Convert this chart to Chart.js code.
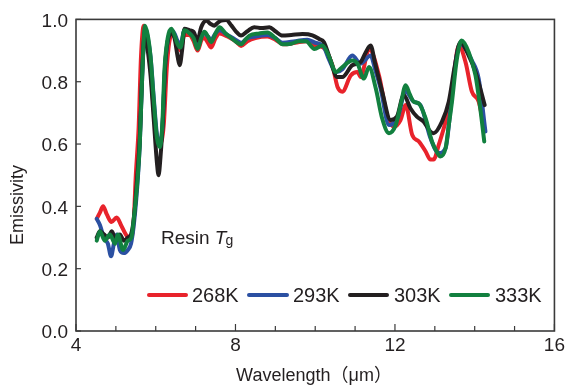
<!DOCTYPE html>
<html>
<head>
<meta charset="utf-8">
<script src="https://cdn.jsdelivr.net/npm/chart.js@4/dist/chart.umd.min.js"></script>
<style>
html,body{margin:0;padding:0;background:#fff;}
canvas{display:block;}
</style>
</head>
<body>
<canvas id="c" width="568" height="389"></canvas>
<script>
// ---- Data (wavelength in µm, emissivity) ----
const seriesNames = ["268K", "293K", "303K", "333K"];
const xTicks = [4, 8, 12, 16];
const yTicks = [0.0, 0.2, 0.4, 0.6, 0.8, 1.0];

const wl268 = [4.52,4.6,4.68,4.77,4.89,5.02,5.14,5.27,5.39,5.45,5.5,5.57,5.63,5.7,5.77,5.85,5.93,6.02,6.1,6.2,6.28,6.36,6.45,6.55,6.62,6.72,6.85,6.95,7.05,7.15,7.22,7.31,7.39,7.5,7.6,7.8,8.0,8.14,8.3,8.5,8.8,9.0,9.2,9.5,9.8,10.0,10.2,10.43,10.56,10.68,10.89,11.06,11.14,11.35,11.6,11.81,11.98,12.14,12.27,12.43,12.6,12.77,12.89,12.97,13.1,13.27,13.43,13.6,13.77,13.93,14.1,14.24];
const em268 = [0.36,0.38,0.40,0.375,0.35,0.364,0.337,0.306,0.30,0.36,0.50,0.65,0.88,0.98,0.95,0.88,0.74,0.63,0.60,0.66,0.85,0.94,0.955,0.92,0.90,0.95,0.95,0.93,0.90,0.935,0.94,0.925,0.91,0.94,0.955,0.945,0.93,0.915,0.93,0.94,0.945,0.935,0.92,0.925,0.93,0.915,0.91,0.853,0.783,0.768,0.82,0.831,0.815,0.905,0.82,0.688,0.656,0.677,0.725,0.63,0.608,0.576,0.55,0.55,0.598,0.672,0.768,0.916,0.863,0.768,0.736,0.65];

const wl293 = [4.52,4.6,4.7,4.8,4.88,4.95,5.02,5.1,5.2,5.3,5.38,5.45,5.54,5.6,5.67,5.74,5.8,5.87,5.95,6.03,6.1,6.17,6.23,6.3,6.39,6.47,6.55,6.62,6.72,6.85,6.95,7.05,7.14,7.22,7.31,7.39,7.5,7.6,7.8,8.0,8.14,8.3,8.5,8.8,9.0,9.18,9.5,9.8,10.0,10.2,10.35,10.52,10.68,10.93,11.14,11.39,11.5,11.64,11.85,12.06,12.27,12.47,12.64,12.89,13.1,13.27,13.4,13.52,13.64,13.93,14.1,14.27];
const em293 = [0.36,0.34,0.30,0.28,0.24,0.28,0.31,0.26,0.25,0.26,0.28,0.34,0.47,0.60,0.85,0.97,0.94,0.88,0.75,0.63,0.60,0.66,0.84,0.93,0.965,0.955,0.93,0.92,0.965,0.96,0.945,0.915,0.945,0.955,0.945,0.935,0.955,0.965,0.95,0.935,0.925,0.94,0.945,0.95,0.94,0.925,0.93,0.935,0.925,0.915,0.87,0.83,0.84,0.884,0.858,0.884,0.84,0.778,0.661,0.682,0.768,0.736,0.725,0.619,0.571,0.587,0.72,0.863,0.921,0.868,0.81,0.64];

const wl303 = [4.52,4.6,4.7,4.8,4.9,5.0,5.1,5.2,5.3,5.38,5.45,5.54,5.6,5.67,5.73,5.8,5.87,5.95,6.03,6.07,6.12,6.18,6.24,6.3,6.39,6.47,6.55,6.6,6.66,6.72,6.85,6.95,7.05,7.14,7.27,7.38,7.47,7.56,7.64,7.77,7.9,8.02,8.14,8.3,8.47,8.65,8.85,9.0,9.18,9.4,9.68,9.93,10.1,10.22,10.38,10.55,10.68,10.93,11.14,11.25,11.39,11.5,11.68,11.89,12.05,12.22,12.39,12.55,12.72,12.89,12.97,13.18,13.35,13.5,13.64,13.85,14.02,14.14,14.25];
const em303 = [0.30,0.32,0.31,0.30,0.32,0.29,0.31,0.29,0.30,0.31,0.36,0.50,0.62,0.86,0.96,0.90,0.82,0.68,0.54,0.50,0.56,0.68,0.86,0.93,0.955,0.94,0.88,0.853,0.90,0.97,0.965,0.96,0.932,0.975,0.996,0.985,0.98,0.99,0.996,0.998,0.98,0.96,0.948,0.962,0.975,0.972,0.975,0.962,0.948,0.95,0.953,0.949,0.937,0.927,0.87,0.815,0.815,0.853,0.863,0.89,0.916,0.86,0.768,0.677,0.688,0.757,0.714,0.688,0.672,0.64,0.635,0.672,0.736,0.85,0.927,0.884,0.831,0.778,0.725];

const wl333 = [4.52,4.6,4.72,4.85,4.98,5.05,5.18,5.3,5.39,5.45,5.54,5.6,5.67,5.73,5.8,5.87,5.95,6.03,6.1,6.16,6.22,6.3,6.39,6.47,6.55,6.62,6.72,6.85,6.95,7.05,7.14,7.22,7.31,7.39,7.5,7.6,7.75,7.9,8.05,8.14,8.25,8.35,8.6,8.8,9.0,9.18,9.4,9.6,9.77,9.98,10.18,10.35,10.52,10.68,10.93,11.06,11.22,11.35,11.52,11.68,11.85,12.02,12.15,12.27,12.37,12.47,12.6,12.77,12.93,13.05,13.14,13.27,13.35,13.43,13.55,13.67,13.85,14.02,14.14,14.24];
const em333 = [0.29,0.32,0.29,0.31,0.28,0.31,0.26,0.29,0.30,0.36,0.48,0.60,0.85,0.98,0.95,0.88,0.74,0.62,0.59,0.65,0.84,0.94,0.97,0.95,0.92,0.91,0.965,0.955,0.94,0.905,0.94,0.96,0.945,0.927,0.955,0.975,0.955,0.94,0.925,0.92,0.935,0.948,0.955,0.958,0.94,0.92,0.922,0.93,0.93,0.905,0.916,0.88,0.831,0.847,0.868,0.858,0.81,0.847,0.778,0.682,0.635,0.661,0.73,0.789,0.76,0.736,0.73,0.682,0.608,0.575,0.56,0.587,0.66,0.736,0.87,0.932,0.895,0.82,0.714,0.608];

const colors = {"268K":"#e8232b", "293K":"#2b50a2", "303K":"#231f20", "333K":"#12803f"};

function pts(xs, ys){ return xs.map((x,i)=>({x:x, y:ys[i]})); }

const FONT = "'Liberation Sans', Arial, 'Noto Sans CJK JP', sans-serif";
const TXT = "#231f20";

function ds(name, xs, ys){
  return {label:name, data:pts(xs,ys), borderColor:colors[name], backgroundColor:colors[name],
    borderWidth:4, pointRadius:0, fill:false, cubicInterpolationMode:'monotone',
    borderCapStyle:'round', borderJoinStyle:'round'};
}

// first dataset is drawn on top -> green first
const datasets = [
  ds("333K", wl333, em333),
  ds("303K", wl303, em303),
  ds("293K", wl293, em293),
  ds("268K", wl268, em268)
];

const decor = {
  id:'decor',
  afterDraw(chart){
    const ctx = chart.ctx, a = chart.chartArea;
    const xs = chart.scales.x, ys = chart.scales.y;
    ctx.save();
    // frame
    ctx.strokeStyle = "#3a3a3a";
    ctx.lineWidth = 1.6;
    ctx.strokeRect(a.left, a.top, a.right - a.left, a.bottom - a.top);
    // x ticks (inside)
    ctx.lineWidth = 1.2;
    for (let v = xs.min; v <= xs.max; v += 1){
      const px = xs.getPixelForValue(v);
      const len = (v % 4 === 0) ? 7 : 5;
      ctx.beginPath(); ctx.moveTo(px, a.bottom); ctx.lineTo(px, a.bottom - len); ctx.stroke();
    }
    // y ticks (inside)
    yTicks.forEach(v=>{
      const py = ys.getPixelForValue(v);
      ctx.beginPath(); ctx.moveTo(a.left, py); ctx.lineTo(a.left + 5, py); ctx.stroke();
    });
    // legend
    const legend = [
      {name:"268K", x0:149, x1:186, tx:192},
      {name:"293K", x0:249, x1:287, tx:293},
      {name:"303K", x0:350, x1:387, tx:394},
      {name:"333K", x0:451, x1:488, tx:495}
    ];
    const ly = 295;
    ctx.lineCap = 'round';
    legend.forEach(l=>{
      ctx.strokeStyle = colors[l.name];
      ctx.lineWidth = 4;
      ctx.beginPath(); ctx.moveTo(l.x0, ly); ctx.lineTo(l.x1, ly); ctx.stroke();
      ctx.fillStyle = TXT;
      ctx.font = "20px " + FONT;
      ctx.textAlign = 'left'; ctx.textBaseline = 'alphabetic';
      ctx.fillText(l.name, l.tx, 302);
    });
    // Resin Tg
    ctx.fillStyle = TXT;
    ctx.font = "19px " + FONT;
    ctx.textAlign = 'left'; ctx.textBaseline = 'alphabetic';
    ctx.fillText("Resin ", 161, 244);
    let w = ctx.measureText("Resin ").width;
    ctx.font = "italic 19px " + FONT;
    ctx.fillText("T", 161 + w, 244);
    let w2 = ctx.measureText("T").width;
    ctx.font = "14px " + FONT;
    ctx.fillText("g", 161 + w + w2 - 1, 245);
    // axis titles
    ctx.font = "18px " + FONT;
    ctx.textAlign = 'center'; ctx.textBaseline = 'middle';
    ctx.fillText("Wavelength（μm）", 314, 376);
    ctx.translate(18, 205);
    ctx.rotate(-Math.PI/2);
    ctx.fillText("Emissivity", 0, 0);
    ctx.restore();
  }
};

new Chart(document.getElementById('c'), {
  type:'line',
  data:{datasets:datasets},
  options:{
    responsive:false,
    animation:false,
    devicePixelRatio:1,
    layout:{padding:{left:0, right:12, top:17, bottom:0}},
    plugins:{legend:{display:false}, tooltip:{enabled:false}},
    scales:{
      x:{type:'linear', min:4, max:16,
        afterBuildTicks(s){ s.ticks = xTicks.map(v=>({value:v})); },
        afterFit(s){ s.height = 58; },
        grid:{display:false, drawTicks:false}, border:{display:false},
        ticks:{color:TXT, font:{size:19, family:FONT}, padding:3, maxRotation:0}
      },
      y:{min:0, max:1,
        afterBuildTicks(s){ s.ticks = yTicks.map(v=>({value:v})); },
        afterFit(s){ s.width = 76; },
        grid:{display:false, drawTicks:false}, border:{display:false},
        ticks:{color:TXT, font:{size:19, family:FONT}, padding:8, labelOffset:2,
          callback:(v)=>Number(v).toFixed(1)}
      }
    }
  },
  plugins:[decor]
});
</script>
</body>
</html>
